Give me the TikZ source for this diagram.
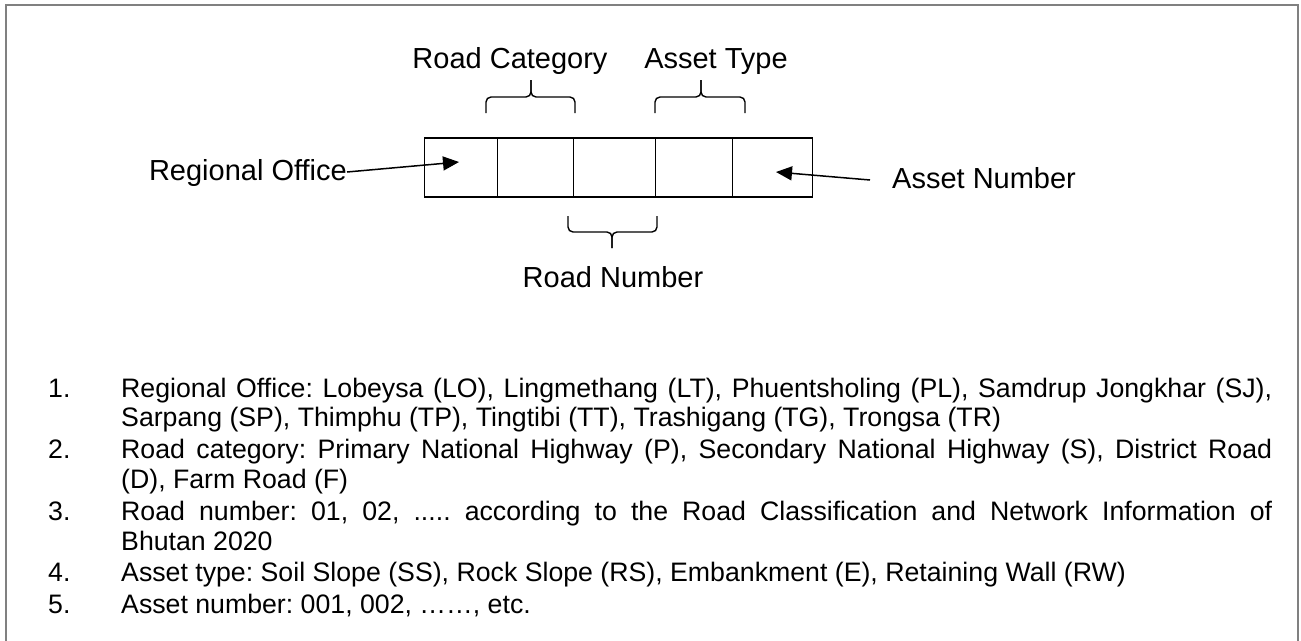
\documentclass[tikz,border=0pt]{standalone}
\usepackage{fontspec}
\setmainfont{Liberation Sans}
\usetikzlibrary{arrows.meta}
\tikzset{
  cell/.style={draw, line width=1.4pt, inner sep=0pt, minimum height=59pt, anchor=west},
  lbl/.style={inner sep=0pt, font=\fontsize{29}{33}\selectfont},
  ptr/.style={line width=1.5pt, -{Triangle[length=16pt,width=14pt]}},
  brc/.style={line width=1.4pt, rounded corners=5pt},
  frame/.style={draw=black!50, line width=2.5pt}
}
\begin{document}
\begin{tikzpicture}[x=1pt,y=-1pt]
\useasboundingbox (0,0) rectangle (1301,640);
\draw[frame] (6,642) -- (6,5) -- (1298,5) -- (1298,642);
% cells
\node[cell, minimum width=73pt] (c1) at (424,167.5) {};
\node[cell, minimum width=76pt] (c2) at (497,167.5) {};
\node[cell, minimum width=82pt] (c3) at (573,167.5) {};
\node[cell, minimum width=77pt] (c4) at (655,167.5) {};
\node[cell, minimum width=80pt] (c5) at (732,167.5) {};
% labels
\node[lbl, anchor=base] (rc) at (510,68) {Road Category};
\node[lbl, anchor=base] (at) at (716,68) {Asset Type};
\node[lbl, anchor=base] (rn) at (613,287) {Road Number};
\node[lbl, anchor=base east] (ro) at (347,180) {Regional Office};
\node[lbl, anchor=base west] (an) at (892,188) {Asset Number};
% braces (Road Category)
\draw[brc] (486,113) -- (486,97) -- (531,97) -- (531,80);
\draw[brc] (575,113) -- (575,97) -- (531,97) -- (531,80);
% braces (Asset Type)
\draw[brc] (655,113) -- (655,97) -- (701,97) -- (701,80);
\draw[brc] (745,113) -- (745,97) -- (701,97) -- (701,80);
% braces (Road Number)
\draw[brc] (568,216) -- (568,232) -- (612,232) -- (612,248);
\draw[brc] (657,216) -- (657,232) -- (612,232) -- (612,248);
% arrows
\coordinate (t1) at (459,162);
\coordinate (t2) at (776,172);
\draw[ptr] (ro.east |- 0,172) -- (t1);
\draw[ptr] (an.west |- 0,180) ++(-22,0) -- (t2);
% list
\node[inner sep=0pt, anchor=base west, text width=1224pt, align=justify,
      font=\fontsize{26.7}{29.8}\selectfont] (list) at (48,397) {%
\frenchspacing\parskip=2pt
\hangindent=73pt\hangafter=1\noindent\makebox[73pt][l]{1.}Regional Office: Lobeysa (LO), Lingmethang (LT), Phuentsholing (PL), Samdrup Jongkhar (SJ),\linebreak Sarpang (SP), Thimphu (TP), Tingtibi (TT), Trashigang (TG), Trongsa (TR)\par
\hangindent=73pt\hangafter=1\noindent\makebox[73pt][l]{2.}Road category: Primary National Highway (P), Secondary National Highway (S), District Road\linebreak (D), Farm Road (F)\par
\hangindent=73pt\hangafter=1\noindent\makebox[73pt][l]{3.}Road number: 01, 02, ..... according to the Road Classification and Network Information of\linebreak Bhutan 2020\par
\hangindent=73pt\hangafter=1\noindent\makebox[73pt][l]{4.}Asset type: Soil Slope (SS), Rock Slope (RS), Embankment (E), Retaining Wall (RW)\par
\hangindent=73pt\hangafter=1\noindent\makebox[73pt][l]{5.}Asset number: 001, 002, ……, etc.\par};
\end{tikzpicture}
\end{document}
